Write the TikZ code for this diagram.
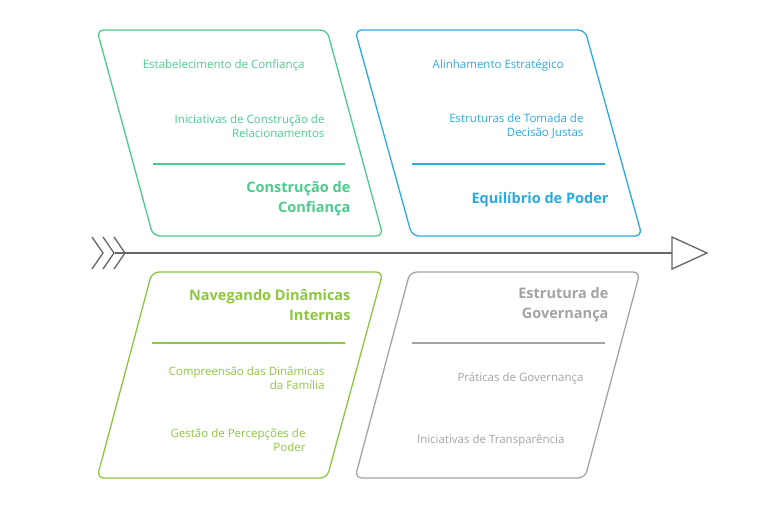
\documentclass[tikz,border=0pt]{standalone}
\usepackage{fontspec}
\setmainfont{Open Sans}
\definecolor{cgreen}{HTML}{4CCB8C}
\definecolor{cblue}{HTML}{2BAAE2}
\definecolor{clime}{HTML}{8DC63F}
\definecolor{cgray}{HTML}{A3A3A3}
\begin{document}
\begin{tikzpicture}[x=1pt,y=-1pt,
  panel/.style={line width=1.3pt,rounded corners=7pt},
  small/.style={font=\fontsize{11.5}{14}\selectfont,align=right,anchor=east},
  big/.style={font=\bfseries\fontsize{14.5}{20}\selectfont,align=right,anchor=east},
  sep/.style={line width=1.1pt}]
\useasboundingbox (0,0) rectangle (760,523);
% panels
\draw[panel,cgreen] (97,30) -- (327,30) -- (383,236) -- (153,236) -- cycle;
\draw[panel,cblue] (355,30) -- (585,30) -- (642,236) -- (412,236) -- cycle;
\draw[panel,clime] (152,272) -- (383,272) -- (327,478) -- (97,478) -- cycle;
\draw[panel,cgray] (410,272) -- (640,272) -- (585,478) -- (355,478) -- cycle;
% top-left
\node[small,text=cgreen] (a1) at (308,65) {Estabelecimento de Confiança};
\node[small,text=cgreen] (a2) at (328,126) {Iniciativas de Construção de\\Relacionamentos};
\draw[sep,cgreen] (153,164) -- (345,164);
\node[big,text=cgreen] (a3) at (354,199) {Construção de\\Confiança};
% top-right
\node[small,text=cblue] (b1) at (567,65) {Alinhamento Estratégico};
\node[small,text=cblue] (b2) at (587,126) {Estruturas de Tomada de\\Decisão Justas};
\draw[sep,cblue] (412,164) -- (605,164);
\node[big,text=cblue] (b3) at (612,200) {Equilíbrio de Poder};
% bottom-left
\node[big,text=clime] (c3) at (354,305) {Navegando Dinâmicas\\Internas};
\draw[sep,clime] (152,343) -- (345,343);
\node[small,text=clime] (c1) at (328,378) {Compreensão das Dinâmicas\\da Família};
\node[small,text=clime] (c2) at (309,440) {Gestão de Percepções de\\Poder};
% bottom-right
\node[big,text=cgray] (d3) at (612,305) {Estrutura de\\Governança};
\draw[sep,cgray] (412,343) -- (605,343);
\node[small,text=cgray] (d1) at (587,378) {Práticas de Governança};
\node[small,text=cgray] (d2) at (568,440) {Iniciativas de Transparência};
% spine
\coordinate (s0) at (115,253);
\coordinate (s1) at (705,253);
\draw[line width=1.3pt,gray!80!black] (s0) -- (672,253);
\draw[line width=1.3pt,gray!80!black,line join=miter] (672,237) -- (707,253) -- (672,269) -- cycle;
\foreach \dx in {0,11,22}
  \draw[line width=1.3pt,gray!80!black] (92+\dx,237) -- (103+\dx,253) -- (92+\dx,269);
\end{tikzpicture}
\end{document}
